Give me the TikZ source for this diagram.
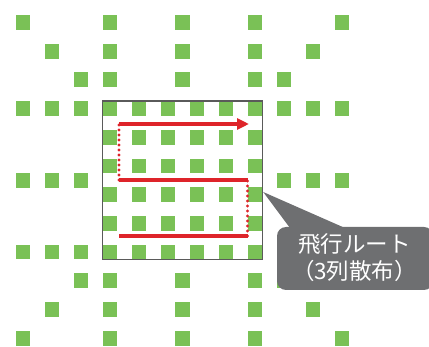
\documentclass[tikz,border=0pt]{standalone}
\usepackage{fontspec}
\newfontfamily\jpfont{Noto Sans CJK JP}
\usetikzlibrary{arrows.meta,calc}
\definecolor{cellgreen}{RGB}{122,193,86}
\definecolor{routered}{RGB}{222,36,42}
\definecolor{calloutgray}{RGB}{110,111,113}
\definecolor{framegray}{RGB}{90,90,90}
\begin{document}
\begin{tikzpicture}[x=1pt,y=-1pt,
  cell/.style={fill=cellgreen},
  area/.style={draw=framegray,line width=1.4pt,minimum width=160pt,minimum height=158.5pt,inner sep=0pt},
  routesolid/.style={draw=routered,line width=3.4pt},
  routedots/.style={draw=routered,line width=3.1pt,line cap=round,dash pattern=on 0pt off 5pt},
  callout/.style={fill=calloutgray},
  calloutlabel/.style={text=white,align=center,font=\jpfont\fontsize{22.5}{27}\selectfont,inner sep=0pt}]
\useasboundingbox (0,0) rectangle (429,347);
% outer pattern: (column x , row y)
\foreach \cx/\cy in {
  23/22.5, 110/22.5, 182.5/22.5, 255/22.5, 342/22.5,
  52/51.2, 110/51.2, 182.5/51.2, 255/51.2, 313/51.2,
  81/79.9, 110/79.9, 182.5/79.9, 255/79.9, 284/79.9,
  23/108.6, 52/108.6, 81/108.6, 284/108.6, 313/108.6, 342/108.6,
  23/180.35, 52/180.35, 81/180.35, 284/180.35, 313/180.35, 342/180.35,
  23/252.1, 52/252.1, 81/252.1, 284/252.1, 313/252.1, 342/252.1,
  81/280.8, 110/280.8, 182.5/280.8, 255/280.8, 284/280.8,
  52/309.5, 110/309.5, 182.5/309.5, 255/309.5, 313/309.5,
  23/338.2, 110/338.2, 182.5/338.2, 255/338.2, 342/338.2}
  \fill[cell] (\cx-7.4,\cy-7.4) rectangle (\cx+7.4,\cy+7.4);
% dense 6x6 grid inside the frame
\foreach \i in {0,...,5}
  \foreach \j in {0,...,5}
    \fill[cell] ({110+29*\i-7.4},{108.6+28.7*\j-7.4}) rectangle ++(14.8,14.8);
% frame
\node[area] (frame) at (182.5,180.35) {};
% route
\coordinate (r1) at (119,236);
\coordinate (r2) at (247.5,236);
\coordinate (r3) at (247.5,180);
\coordinate (r4) at (119,180);
\coordinate (r5) at (119,124);
\coordinate (r6) at (249,124);
\draw[routesolid] (r1) -- (r2);
\draw[routedots] (r2) -- (r3);
\draw[routesolid] (r3) -- (r4);
\draw[routedots] (r4) -- (r5);
\draw[routesolid,-{Triangle[length=12pt,width=11pt]}] (r5) -- (r6);
% callout
\coordinate (tip) at (frame.east |- 0,192);
\fill[callout,rounded corners=9pt] (277,227) rectangle (433,290);
\fill[callout] (tip) -- (290,228) -- (345,228) -- cycle;
\node[calloutlabel] (label) at (354.5,257.5) {飛行ルート\\（3列散布）};
\end{tikzpicture}
\end{document}
